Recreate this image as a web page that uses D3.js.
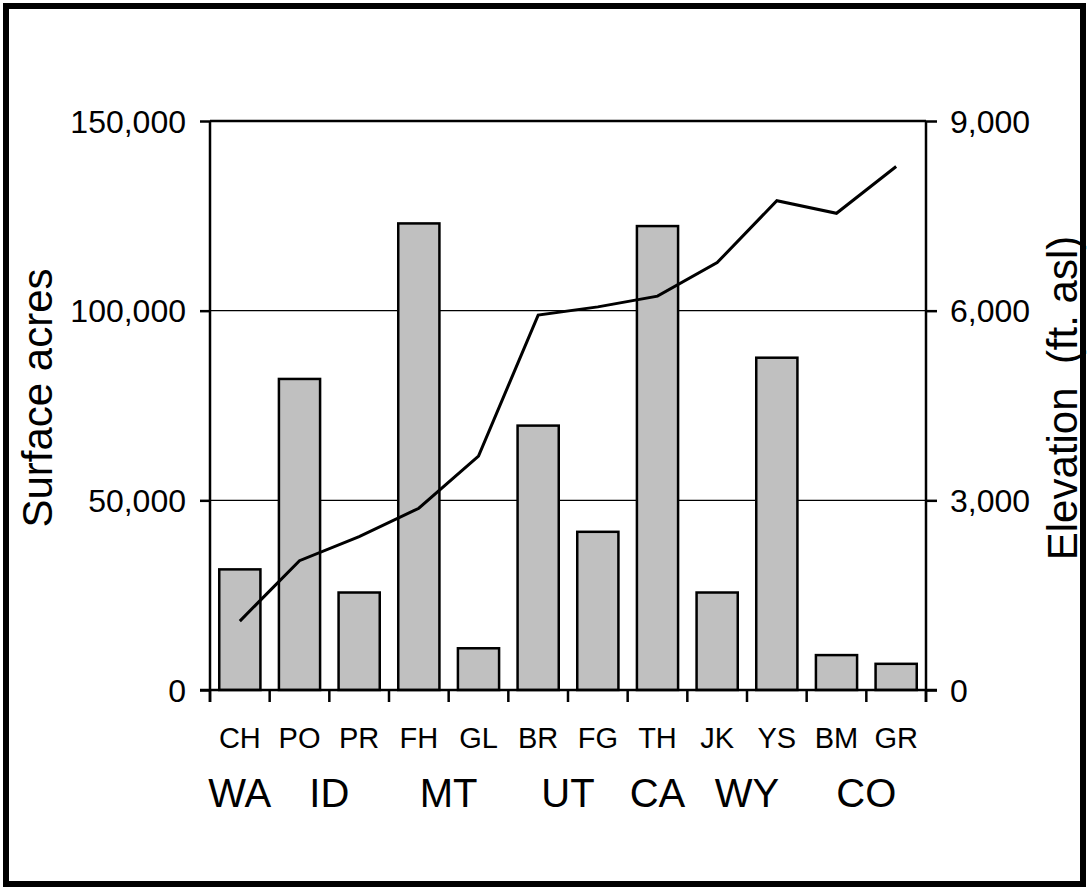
<!DOCTYPE html>
<html>
<head>
<meta charset="utf-8">
<script src="https://cdn.jsdelivr.net/npm/d3@7/dist/d3.min.js"></script>
<style>
  html, body { margin: 0; padding: 0; background: #fff; }
  svg { display: block; }
  text { font-family: "Liberation Sans", Arial, sans-serif; fill: #000; }
</style>
</head>
<body>
<div id="chart"></div>
<script>
// lakes, in order of elevation
const lakes = ["CH", "PO", "PR", "FH", "GL", "BR", "FG", "TH", "JK", "YS", "BM", "GR"];
const acres = [31800, 82000, 25700, 123000, 11000, 69700, 41700, 122300, 25700, 87600, 9200, 6900];
const elevation = [1090, 2045, 2425, 2875, 3700, 5930, 6060, 6230, 6760, 7740, 7540, 8280];

// state of each lake group (first and last lake index)
const states = ["WA", "ID", "MT", "UT", "CA", "WY", "CO"];
const stateFirst = [0, 1, 3, 5, 7, 8, 10];
const stateLast = [0, 2, 4, 6, 7, 9, 11];

const acreTicks = [0, 50000, 100000, 150000];
const elevTicks = [0, 3000, 6000, 9000];

const width = 1089, height = 888;
const plot = {left: 210, right: 926, top: 121, bottom: 690};

const svg = d3.select("#chart").append("svg")
    .attr("width", width)
    .attr("height", height);

// outer frame
svg.append("rect")
    .attr("x", 6).attr("y", 6)
    .attr("width", width - 12).attr("height", height - 10)
    .attr("fill", "none")
    .attr("stroke", "#000")
    .attr("stroke-width", 6);

let x = d3.scaleBand()
    .domain(lakes)
    .range([plot.left, plot.right])
    .paddingInner(0.31)
    .paddingOuter(0.155);

let y = d3.scaleLinear().domain([0, 150000]).range([plot.bottom, plot.top]);
let y2 = d3.scaleLinear().domain([0, 9000]).range([plot.bottom, plot.top]);

// gridlines
svg.append("g")
    .selectAll("line")
    .data(acreTicks.slice(1))
    .enter()
    .append("line")
    .attr("x1", plot.left).attr("x2", plot.right)
    .attr("y1", d => y(d)).attr("y2", d => y(d))
    .attr("stroke", "#000")
    .attr("stroke-width", d => d === 150000 ? 2.5 : 1.3);

// bars
svg.append("g")
    .selectAll("rect")
    .data(lakes)
    .enter()
    .append("rect")
    .attr("x", d => x(d))
    .attr("width", x.bandwidth())
    .attr("y", (d, i) => y(acres[i]))
    .attr("height", (d, i) => y(0) - y(acres[i]))
    .attr("fill", "#c0c0c0")
    .attr("stroke", "#000")
    .attr("stroke-width", 2.5);

// elevation line
let line = d3.line()
    .x((d, i) => x(lakes[i]) + x.bandwidth() / 2)
    .y(d => y2(d));

svg.append("path")
    .datum(elevation)
    .attr("d", line)
    .attr("fill", "none")
    .attr("stroke", "#000")
    .attr("stroke-width", 3)
    .attr("stroke-linejoin", "miter");

// left axis
let leftAxis = svg.append("g")
    .attr("transform", "translate(" + plot.left + ",0)")
    .call(d3.axisLeft(y).tickValues(acreTicks).tickSize(10).tickPadding(14).tickFormat(d3.format(",")));

// right axis
let rightAxis = svg.append("g")
    .attr("transform", "translate(" + plot.right + ",0)")
    .call(d3.axisRight(y2).tickValues(elevTicks).tickSize(11).tickPadding(13).tickFormat(d3.format(",")));

[leftAxis, rightAxis].forEach(function (g) {
    g.select(".domain").remove();
    g.selectAll("line").attr("stroke", "#000").attr("stroke-width", 2.5);
    g.selectAll("text")
        .attr("font-size", "32px")
        .attr("dy", "0.35em")
        .style("font-family", "'Liberation Sans', Arial, sans-serif");
});

// axis lines
svg.append("line")
    .attr("x1", plot.left).attr("x2", plot.left)
    .attr("y1", plot.top).attr("y2", plot.bottom + 12)
    .attr("stroke", "#000").attr("stroke-width", 2.5);
svg.append("line")
    .attr("x1", plot.right).attr("x2", plot.right)
    .attr("y1", plot.top).attr("y2", plot.bottom + 12)
    .attr("stroke", "#000").attr("stroke-width", 2.5);

// bottom axis: ticks between categories
let bottom = svg.append("g")
    .attr("transform", "translate(0," + plot.bottom + ")");

bottom.append("line")
    .attr("x1", plot.left - 10).attr("x2", plot.right + 11)
    .attr("stroke", "#000").attr("stroke-width", 2.5);

bottom.selectAll(".tick")
    .data(d3.range(lakes.length + 1))
    .enter()
    .append("line")
    .attr("class", "tick")
    .attr("x1", i => plot.left + i * x.step())
    .attr("x2", i => plot.left + i * x.step())
    .attr("y1", 0).attr("y2", 12)
    .attr("stroke", "#000").attr("stroke-width", 2.5);

bottom.selectAll(".cat")
    .data(lakes)
    .enter()
    .append("text")
    .attr("class", "cat")
    .attr("x", d => x(d) + x.bandwidth() / 2)
    .attr("y", 58)
    .attr("text-anchor", "middle")
    .attr("font-size", "29px")
    .text(d => d);

// state labels, centred under their lakes
bottom.selectAll(".state")
    .data(states)
    .enter()
    .append("text")
    .attr("class", "state")
    .attr("x", (d, i) => (x(lakes[stateFirst[i]]) + x(lakes[stateLast[i]]) + x.bandwidth()) / 2)
    .attr("y", 117)
    .attr("text-anchor", "middle")
    .attr("font-size", "40px")
    .text(d => d);

// axis titles
svg.append("text")
    .attr("transform", "translate(52,398) rotate(-90)")
    .attr("text-anchor", "middle")
    .attr("font-size", "42px")
    .text("Surface acres");

svg.append("text")
    .attr("transform", "translate(1077,398) rotate(-90)")
    .attr("text-anchor", "middle")
    .attr("font-size", "42px")
    .attr("xml:space", "preserve")
    .style("white-space", "pre")
    .text("Elevation  (ft. asl)");
</script>
</body>
</html>
